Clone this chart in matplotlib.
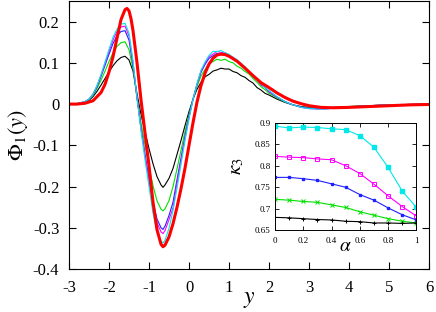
import numpy as np
import matplotlib
matplotlib.use("Agg")
import matplotlib.pyplot as plt

plt.rcParams['font.family'] = ['Liberation Serif', 'DejaVu Serif']
plt.rcParams['mathtext.fontset'] = 'stix'
plt.rcParams['axes.unicode_minus'] = False

# thin curves (noisy data), common grid
yg = [-3.0, -2.8, -2.6, -2.5, -2.4, -2.3, -2.2, -2.1, -2.0, -1.9, -1.8, -1.7, -1.6, -1.5, -1.4,
      -1.3, -1.2, -1.1, -1.0, -0.9, -0.8, -0.7, -0.65, -0.6, -0.5, -0.4, -0.3, -0.2, -0.1, 0.0,
      0.1, 0.2, 0.3, 0.4, 0.5, 0.6, 0.7, 0.8, 0.9, 1.0, 1.1, 1.2, 1.3, 1.4, 1.5, 1.6, 1.7, 1.8,
      1.9, 2.0, 2.2, 2.4, 2.6, 2.8, 3.0, 3.2, 3.4, 3.6, 3.8, 4.0, 4.5, 5.0, 5.5, 6.0]
phi_black = [0, 0.001, 0.004, 0.009, 0.018, 0.031, 0.046, 0.062, 0.078, 0.093, 0.105, 0.113, 0.116, 0.107, 0.080,
             0.025, -0.025, -0.067, -0.108, -0.145, -0.176, -0.196, -0.202, -0.196, -0.180, -0.156, -0.122, -0.088, -0.052, -0.018,
             0.012, 0.036, 0.053, 0.066, 0.072, 0.080, 0.083, 0.087, 0.085, 0.085, 0.079, 0.076, 0.069, 0.065, 0.057, 0.051, 0.040, 0.034,
             0.026, 0.022, 0.012, 0.004, -0.002, -0.006, -0.008, -0.009, -0.009, -0.008, -0.007, -0.006, -0.004, -0.002, -0.001, 0]
phi_green = [0, 0.001, 0.005, 0.011, 0.021, 0.038, 0.058, 0.080, 0.103, 0.124, 0.140, 0.149, 0.151, 0.132, 0.085,
             0.015, -0.045, -0.100, -0.152, -0.198, -0.235, -0.255, -0.259, -0.254, -0.234, -0.200, -0.157, -0.112, -0.066, -0.025,
             0.012, 0.043, 0.068, 0.084, 0.098, 0.103, 0.109, 0.106, 0.109, 0.103, 0.100, 0.092, 0.087, 0.079, 0.073, 0.062, 0.053, 0.042,
             0.035, 0.026, 0.015, 0.005, -0.002, -0.007, -0.009, -0.010, -0.010, -0.009, -0.008, -0.006, -0.004, -0.002, -0.001, 0]
phi_blue = [0, 0.001, 0.006, 0.012, 0.023, 0.042, 0.067, 0.094, 0.121, 0.147, 0.166, 0.176, 0.178, 0.155, 0.095,
            0.015, -0.058, -0.122, -0.181, -0.237, -0.279, -0.300, -0.304, -0.296, -0.270, -0.238, -0.183, -0.131, -0.078, -0.030,
            0.012, 0.048, 0.077, 0.096, 0.111, 0.117, 0.123, 0.122, 0.122, 0.116, 0.112, 0.103, 0.097, 0.086, 0.079, 0.067, 0.059, 0.047,
            0.040, 0.030, 0.017, 0.006, -0.002, -0.007, -0.010, -0.011, -0.011, -0.010, -0.008, -0.007, -0.004, -0.002, -0.001, 0]
phi_magenta = [0, 0.001, 0.006, 0.012, 0.024, 0.044, 0.070, 0.099, 0.128, 0.156, 0.176, 0.187, 0.189, 0.165, 0.100,
               0.015, -0.060, -0.126, -0.187, -0.245, -0.288, -0.310, -0.314, -0.307, -0.280, -0.252, -0.192, -0.138, -0.083, -0.033,
               0.011, 0.049, 0.080, 0.099, 0.115, 0.121, 0.128, 0.125, 0.125, 0.118, 0.114, 0.105, 0.099, 0.088, 0.080, 0.068, 0.060, 0.048,
               0.041, 0.030, 0.017, 0.006, -0.002, -0.008, -0.011, -0.012, -0.012, -0.010, -0.008, -0.007, -0.004, -0.002, -0.001, 0]
phi_cyan = [0, 0.001, 0.006, 0.012, 0.024, 0.045, 0.072, 0.102, 0.133, 0.162, 0.182, 0.194, 0.196, 0.172, 0.105,
            0.015, -0.065, -0.135, -0.200, -0.265, -0.310, -0.332, -0.337, -0.330, -0.301, -0.258, -0.204, -0.146, -0.088, -0.035,
            0.011, 0.050, 0.082, 0.102, 0.118, 0.128, 0.127, 0.130, 0.124, 0.121, 0.113, 0.108, 0.098, 0.091, 0.079, 0.071, 0.059, 0.051,
            0.040, 0.033, 0.018, 0.006, -0.002, -0.008, -0.011, -0.012, -0.012, -0.010, -0.008, -0.007, -0.004, -0.002, -0.001, 0]

# thick red curve
y_red = [-3.0, -2.8, -2.6, -2.4, -2.2, -2.1, -2.0, -1.9, -1.8, -1.7, -1.6, -1.55, -1.5, -1.45, -1.4, -1.3, -1.2,
         -1.1, -1.0, -0.9, -0.8, -0.7, -0.65, -0.6, -0.5, -0.4, -0.3, -0.2, -0.1, 0.0, 0.1, 0.2, 0.3,
         0.4, 0.5, 0.6, 0.7, 0.8, 0.9, 1.0, 1.2, 1.4, 1.6, 1.8, 2.0, 2.2, 2.4, 2.6, 2.8, 3.0, 3.3,
         3.6, 4.0, 4.5, 5.0, 5.5, 6.0]
phi_red = [0, 0, 0.002, 0.008, 0.028, 0.048, 0.078, 0.115, 0.160, 0.205, 0.229, 0.232, 0.226, 0.207, 0.178, 0.100, 0.010,
           -0.070, -0.150, -0.238, -0.305, -0.340, -0.346, -0.342, -0.322, -0.290, -0.250, -0.205, -0.155, -0.100, -0.045, 0.005, 0.045,
           0.075, 0.097, 0.111, 0.119, 0.121, 0.120, 0.116, 0.104, 0.087, 0.069, 0.052, 0.040, 0.027, 0.016, 0.007, 0.001, -0.004, -0.008,
           -0.009, -0.008, -0.006, -0.004, -0.002, -0.001]

# inset: kappa_3 vs alpha
alpha = [0, 0.1, 0.2, 0.3, 0.4, 0.5, 0.6, 0.7, 0.8, 0.9, 1.0]
k_cyan = [0.892, 0.888, 0.890, 0.889, 0.886, 0.884, 0.870, 0.843, 0.796, 0.741, 0.703]
k_magenta = [0.822, 0.820, 0.819, 0.816, 0.814, 0.800, 0.782, 0.757, 0.730, 0.705, 0.683]
k_blue = [0.773, 0.773, 0.770, 0.766, 0.758, 0.750, 0.733, 0.720, 0.702, 0.686, 0.674]
k_green = [0.722, 0.720, 0.717, 0.715, 0.709, 0.703, 0.693, 0.685, 0.677, 0.671, 0.667]
k_black = [0.680, 0.679, 0.677, 0.675, 0.674, 0.671, 0.670, 0.667, 0.667, 0.666, 0.667]

xticks = [-3, -2, -1, 0, 1, 2, 3, 4, 5, 6]
yticks = [-0.4, -0.3, -0.2, -0.1, 0, 0.1, 0.2]
ytick_labels = ['-0.4', '-0.3', '-0.2', '-0.1', '0', '0.1', '0.2']

fig = plt.figure(figsize=(4.36, 3.12), dpi=100)
ax = fig.add_axes([0.1583, 0.1378, 0.8257, 0.859])

ax.plot(yg, phi_black, color='black', lw=0.8)
ax.plot(yg, phi_green, color='#00e000', lw=0.8)
ax.plot(yg, phi_blue, color='#2020ff', lw=0.8)
ax.plot(yg, phi_magenta, color='#ff00ff', lw=0.8)
ax.plot(yg, phi_cyan, color='#00e8e8', lw=0.8)
ax.plot(y_red, phi_red, color='#ff0000', lw=2.2)

ax.set_xlim(-3, 6)
ax.set_ylim(-0.4, 0.25)
ax.set_xticks(xticks)
ax.set_xticklabels([str(t) for t in xticks])
ax.set_yticks(yticks)
ax.set_yticklabels(ytick_labels)
ax.tick_params(direction='in', length=5, width=0.8, top=True, right=True, labelsize=12)
ax.tick_params(axis='x', pad=8)
ax.tick_params(axis='y', pad=7)
ax.set_xlabel(r'$y$', fontsize=17, labelpad=-5)
ax.set_ylabel(r'$\Phi_1(y)$', fontsize=16, labelpad=2)

ins = fig.add_axes([0.6307, 0.2619, 0.3245, 0.3446])
ins.plot(alpha, k_cyan, color='#00e8e8', lw=0.8, marker='s', ms=2.2)
ins.plot(alpha, k_magenta, color='#ff00ff', lw=0.8, marker='s', ms=2.8, mfc='none', mew=0.7)
ins.plot(alpha, k_blue, color='#2020ff', lw=0.8, marker='s', ms=2.0)
ins.plot(alpha, k_green, color='#00e000', lw=0.8, marker='x', ms=2.6, mew=0.7)
ins.plot(alpha, k_black, color='black', lw=0.8, marker='+', ms=3.0, mew=0.7)
ins.set_xlim(0, 1)
ins.set_ylim(0.65, 0.9)
ins.set_xticks([0, 0.2, 0.4, 0.6, 0.8, 1])
ins.set_xticklabels(['0', '0.2', '0.4', '0.6', '0.8', '1'])
ins.set_yticks([0.65, 0.7, 0.75, 0.8, 0.85, 0.9])
ins.set_yticklabels(['0.65', '0.7', '0.75', '0.8', '0.85', '0.9'])
ins.tick_params(direction='in', length=3, width=0.6, top=True, right=True, labelsize=6.5)
ins.tick_params(axis='x', pad=5)
ins.tick_params(axis='y', pad=3)
for s in ins.spines.values():
    s.set_linewidth(0.7)
ins.set_xlabel(r'$\alpha$', fontsize=14, labelpad=-5)
ins.set_ylabel(r'$\kappa_3$', fontsize=15, labelpad=-1)
ins.yaxis.set_label_coords(-0.2, 0.6)

plt.savefig('out.png', dpi=100)
